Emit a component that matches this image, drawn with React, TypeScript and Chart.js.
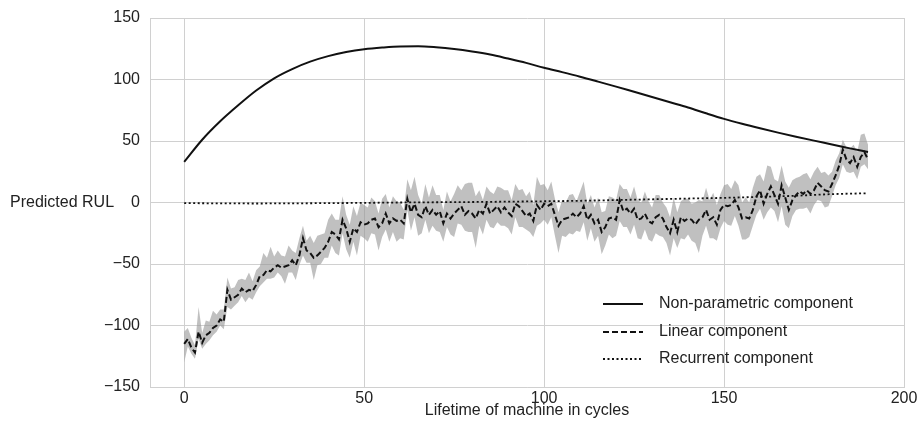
import React, { useEffect, useRef } from "react";
import { Chart, registerables } from "chart.js";

Chart.register(...registerables);

// ---------------- DATA ----------------
const xTickValues = [0, 50, 100, 150, 200];
const yTickValues = [-150, -100, -50, 0, 50, 100, 150];

const xTitle = "Lifetime of machine in cycles";
const yTitle = "Predicted RUL";
const seriesNames = ["Non-parametric component", "Linear component", "Recurrent component"];

// Non-parametric component, sampled every 5 cycles
const nonParamCycles = [0, 5, 10, 15, 20, 25, 30, 35, 40, 45, 50, 55, 60, 65, 70, 75, 80, 85, 90, 95, 100, 105, 110, 115, 120, 125, 130, 135, 140, 145, 150, 155, 160, 165, 170, 175, 180, 185, 190];
const nonParamValues = [33, 51, 66, 79, 91, 101, 108.5, 114.5, 119, 122.3, 124.6, 126, 126.9, 127, 126.2, 124.8, 122.8, 120.3, 117, 113.5, 109.5, 106, 102.3, 98.3, 94.2, 90, 85.8, 81.5, 77.2, 72.5, 68, 64, 60.3, 56.8, 53.5, 50.3, 47.2, 44, 41];

// Recurrent component, sampled every 10 cycles
const recurrentCycles = [0, 10, 20, 30, 40, 50, 60, 70, 80, 90, 100, 110, 120, 130, 140, 150, 160, 170, 180, 190];
const recurrentValues = [-0.5, -0.7, -0.8, -0.7, -0.5, -0.3, 0, 0.2, 0.4, 0.7, 1.0, 1.4, 2.0, 2.6, 3.2, 3.8, 4.6, 5.5, 6.8, 7.5];

// Linear component, one value per cycle 0..190
const linearValues = [
  -115, -111, -118, -122, -105, -114, -108, -106, -102, -100,
  -95, -97, -71, -79, -77, -75, -70, -73, -71, -72,
  -67, -60, -59, -55, -56, -53, -51, -53, -52, -51,
  -47, -51, -43, -29, -39, -41, -45, -43, -40, -37,
  -32, -24, -26, -30, -14, -21, -32, -21, -24, -16,
  -18, -17, -14, -13, -20, -17, -9, -17, -13, -15,
  -14, -17, 3, -8, -1, -10, -12, -3, -10, -6,
  -10, -7, -17, -9, -13, -9, -6, -3, -10, -7,
  -9, -13, -6, -9, -1, -9, -6, -3, -8, -4,
  -8, -11, -1, -3, -7, -11, -9, -15, -2, -6,
  -1, -3, -1, -10, -19, -14, -13, -12, -9, -12,
  -9, -3, -14, -10, -17, -14, -24, -20, -13, -12,
  -14, 2, -7, -5, -9, -5, -14, -13, -9, -15,
  -17, -12, -10, -13, -20, -25, -14, -24, -12, -15,
  -13, -14, -18, -14, -12, -6, -14, -12, -18, -6,
  -2, -3, -2, 2, -4, -13, -12, -13, -6, 5,
  10, -1, 7, 13, 6, -1, 14, 4, -6, 2,
  6, 9, 7, 10, 7, 10, 16, 13, 10, 9,
  15, 22, 30, 43, 35, 32, 37, 29, 37, 41,
  35,
];

// Uncertainty band around the linear component: distance above / below
const linearSpreadUp = [
  10, 9, 8, 6, 20, 8, 12, 9, 14, 9,
  8, 10, 10, 9, 8, 12, 8, 10, 14, 8,
  12, 8, 18, 10, 20, 9, 12, 10, 8, 16,
  8, 10, 14, 10, 8, 14, 12, 16, 14, 12,
  18, 15, 12, 16, 19, 11, 14, 18, 13, 16,
  16, 13, 18, 14, 11, 20, 16, 13, 18, 16,
  14, 11, 16, 18, 22, 16, 11, 18, 14, 20,
  16, 13, 11, 18, 14, 16, 20, 13, 25, 23,
  25, 18, 16, 11, 14, 18, 13, 16, 20, 14,
  18, 13, 16, 13, 18, 16, 18, 13, 23, 20,
  16, 13, 18, 13, 11, 16, 13, 18, 16, 13,
  18, 20, 13, 16, 13, 18, 16, 13, 18, 16,
  16, 13, 18, 16, 13, 18, 16, 13, 18, 16,
  13, 18, 16, 13, 16, 13, 18, 16, 13, 18,
  16, 13, 18, 16, 13, 18, 16, 20, 16, 13,
  16, 18, 13, 16, 18, 13, 16, 13, 18, 16,
  13, 18, 23, 16, 13, 18, 16, 13, 18, 16,
  14, 12, 16, 14, 12, 15, 13, 11, 15, 13,
  10, 12, 10, 8, 10, 12, 10, 12, 18, 15,
  12,
];
const linearSpreadDown = [
  15, 6, 5, 5, 6, 5, 7, 6, 6, 5,
  5, 6, 14, 8, 7, 6, 6, 8, 6, 7,
  6, 8, 6, 7, 6, 8, 6, 7, 14, 6,
  10, 12, 8, 14, 10, 8, 18, 8, 10, 8,
  13, 11, 15, 13, 11, 17, 13, 11, 19, 11,
  11, 15, 11, 13, 19, 11, 13, 15, 11, 17,
  15, 13, 9, 15, 11, 17, 13, 11, 15, 13,
  13, 17, 15, 11, 13, 19, 11, 15, 13, 17,
  15, 24, 13, 17, 13, 11, 15, 13, 11, 15,
  13, 15, 11, 17, 13, 11, 15, 13, 17, 11,
  13, 15, 11, 17, 22, 13, 15, 13, 17, 11,
  15, 13, 17, 11, 15, 13, 18, 15, 13, 17,
  13, 17, 13, 15, 17, 13, 15, 17, 13, 15,
  15, 13, 17, 15, 13, 18, 15, 13, 17, 15,
  13, 17, 15, 27, 15, 13, 15, 17, 13, 15,
  13, 15, 17, 13, 15, 17, 18, 15, 13, 15,
  15, 13, 15, 17, 13, 15, 17, 22, 15, 13,
  12, 14, 12, 14, 16, 12, 14, 12, 14, 12,
  10, 8, 10, 12, 10, 8, 12, 10, 8, 10,
  8,
];

// ---------------- STYLE ----------------
const FONT = '"Liberation Sans", Arial, Helvetica, sans-serif';
const FONT_SIZE = 16;
const TEXT = "#222222";
const GRID = "#d0d0d0";
const LINE = "#111111";
const BAND = "rgba(150,150,150,0.6)";
const DASH_LINEAR = [6, 3];
const DASH_RECUR = [2, 2.5];

const overlayPlugin = {
  id: "overlay",
  afterDraw(chart: any) {
    const { ctx, chartArea } = chart;
    const yScale = chart.scales.y;
    ctx.save();
    ctx.font = `${FONT_SIZE}px ${FONT}`;
    ctx.fillStyle = TEXT;
    ctx.textBaseline = "middle";
    ctx.textAlign = "left";
    ctx.fillText(yTitle, 10, yScale.getPixelForValue(0));

    // legend inside the plot, bottom right
    const lineX0 = chartArea.right - 301;
    const lineX1 = chartArea.right - 261;
    const textX = chartArea.right - 245;
    const rows = [chartArea.bottom - 83, chartArea.bottom - 55, chartArea.bottom - 28];
    const styles = [
      { dash: [] as number[], width: 2 },
      { dash: DASH_LINEAR, width: 2 },
      { dash: DASH_RECUR, width: 1.8 },
    ];
    rows.forEach((ry, i) => {
      ctx.beginPath();
      ctx.setLineDash(styles[i].dash);
      ctx.lineWidth = styles[i].width;
      ctx.strokeStyle = LINE;
      ctx.moveTo(lineX0, ry);
      ctx.lineTo(lineX1, ry);
      ctx.stroke();
      ctx.setLineDash([]);
      ctx.fillText(seriesNames[i], textX, ry);
    });
    ctx.restore();
  },
};

export default function App() {
  const canvasRef = useRef<HTMLCanvasElement | null>(null);

  useEffect(() => {
    document.body.style.margin = "0";
    const canvas = canvasRef.current;
    if (!canvas) return;

    const linearPts = linearValues.map((v, i) => ({ x: i, y: v }));
    const upperPts = linearValues.map((v, i) => ({ x: i, y: v + linearSpreadUp[i] }));
    const lowerPts = linearValues.map((v, i) => ({ x: i, y: v - linearSpreadDown[i] }));
    const nonParamPts = nonParamCycles.map((c, i) => ({ x: c, y: nonParamValues[i] }));
    const recurPts = recurrentCycles.map((c, i) => ({ x: c, y: recurrentValues[i] }));

    const chart = new Chart(canvas, {
      type: "line",
      data: {
        datasets: [
          {
            label: "band-upper",
            data: upperPts,
            borderWidth: 0,
            borderColor: "rgba(0,0,0,0)",
            backgroundColor: BAND,
            pointRadius: 0,
            fill: "+1",
            order: 3,
            tension: 0,
          },
          {
            label: "band-lower",
            data: lowerPts,
            borderWidth: 0,
            borderColor: "rgba(0,0,0,0)",
            pointRadius: 0,
            fill: false,
            order: 3,
            tension: 0,
          },
          {
            label: seriesNames[0],
            data: nonParamPts,
            borderColor: LINE,
            borderWidth: 2,
            pointRadius: 0,
            fill: false,
            cubicInterpolationMode: "monotone",
            order: 0,
          },
          {
            label: seriesNames[1],
            data: linearPts,
            borderColor: LINE,
            borderWidth: 2,
            borderDash: DASH_LINEAR,
            pointRadius: 0,
            fill: false,
            tension: 0,
            order: 1,
          },
          {
            label: seriesNames[2],
            data: recurPts,
            borderColor: LINE,
            borderWidth: 1.8,
            borderDash: DASH_RECUR,
            pointRadius: 0,
            fill: false,
            cubicInterpolationMode: "monotone",
            order: 2,
          },
        ],
      },
      options: {
        animation: false,
        responsive: false,
        devicePixelRatio: 1,
        layout: { padding: { left: 0, top: 18, right: 14, bottom: 0 } },
        plugins: {
          legend: { display: false },
          tooltip: { enabled: false },
        },
        scales: {
          x: {
            type: "linear",
            min: -9.5,
            max: 200,
            afterBuildTicks: (s: any) => {
              s.ticks = xTickValues.map((v) => ({ value: v }));
            },
            afterFit: (s: any) => {
              s.height = 40;
              s.paddingLeft = 0;
              s.paddingRight = 0;
            },
            grid: { color: GRID, lineWidth: 1, drawTicks: false },
            border: { display: true, color: GRID, width: 1 },
            ticks: {
              color: TEXT,
              font: { family: FONT, size: FONT_SIZE },
              padding: 2,
              maxRotation: 0,
              autoSkip: false,
            },
            title: {
              display: true,
              text: xTitle,
              color: TEXT,
              font: { family: FONT, size: FONT_SIZE },
              padding: { top: 0, bottom: 7 },
            },
          },
          y: {
            type: "linear",
            min: -150,
            max: 150,
            afterBuildTicks: (s: any) => {
              s.ticks = yTickValues.map((v) => ({ value: v }));
            },
            afterFit: (s: any) => {
              s.width = 150;
              s.paddingTop = 0;
              s.paddingBottom = 0;
            },
            grid: { color: GRID, lineWidth: 1, drawTicks: false },
            border: { display: true, color: GRID, width: 1 },
            ticks: {
              color: TEXT,
              font: { family: FONT, size: FONT_SIZE },
              padding: 10,
              callback: (v: any) => String(v).replace("-", "\u2212"),
            },
          },
        },
      },
      plugins: [overlayPlugin],
    });

    return () => chart.destroy();
  }, []);

  return (
    <div style={{ width: 918, height: 427 }}>
      <canvas ref={canvasRef} width={918} height={427} style={{ display: "block" }} />
    </div>
  );
}
